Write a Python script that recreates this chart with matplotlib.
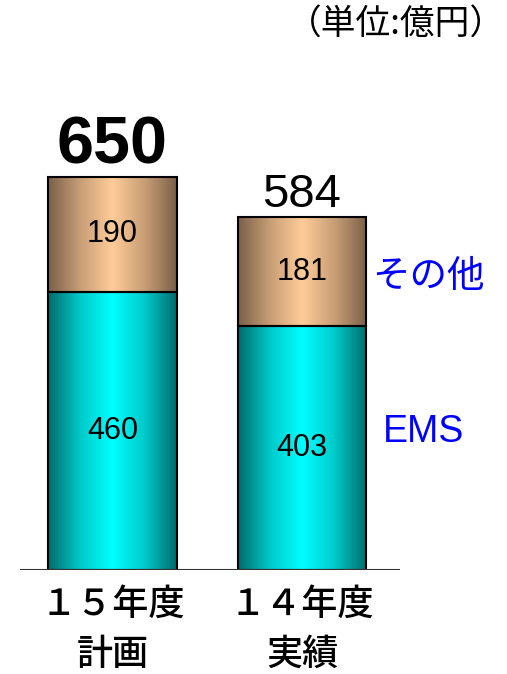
import numpy as np
import matplotlib
matplotlib.use("Agg")
import matplotlib.pyplot as plt
from matplotlib.patches import Rectangle
from matplotlib.colors import LinearSegmentedColormap

plt.rcParams['font.family'] = ['Noto Sans CJK JP', 'DejaVu Sans']

cat_line1 = ["１５年度", "１４年度"]
cat_line2 = ["計画", "実績"]
ems = [460, 403]
other = [190, 181]
totals = [650, 584]
series_names = ["EMS", "その他"]
unit_label = "（単位:億円）"

W, H = 507, 674
fig = plt.figure(figsize=(W / 100, H / 100), dpi=100)
ax = fig.add_axes([20 / W, 104 / H, 380 / W, 570 / H])
ax.axis('off')
ax.axhline(0, color='#333333', lw=1.5, zorder=5)

teal_cmap = LinearSegmentedColormap.from_list('teal', ['#006c6c', '#00caca', '#00ffff', '#00caca', '#006c6c'])
tan_cmap = LinearSegmentedColormap.from_list('tan', ['#7a6049', '#c89e76', '#ffcc99', '#c89e76', '#7a6049'])
grad = np.linspace(0, 1, 256).reshape(1, -1)
width = 0.68

def seg(x, bottom, height, cmap):
    x0, x1 = x - width / 2, x + width / 2
    ax.imshow(grad, cmap=cmap, extent=[x0, x1, bottom, bottom + height],
              aspect='auto', interpolation='bilinear', zorder=2)
    ax.add_patch(Rectangle((x0, bottom), width, height, fill=False,
                           edgecolor='black', lw=1.5, zorder=3))

for i in range(len(ems)):
    seg(i, 0, ems[i], teal_cmap)
    seg(i, ems[i], other[i], tan_cmap)
    ax.text(i, ems[i] / 2, str(ems[i]), ha='center', va='center',
            fontsize=22, family=['Liberation Sans'], zorder=4)
    ax.text(i, ems[i] + other[i] / 2, str(other[i]), ha='center', va='center',
            fontsize=22, family=['Liberation Sans'], zorder=4)

ax.text(0, totals[0] + 23, str(totals[0]), ha='center', va='baseline',
        fontsize=48, fontweight='bold', family=['Liberation Sans'])
ax.text(1, totals[1] + 16, str(totals[1]), ha='center', va='baseline',
        fontsize=34, family=['Liberation Sans'])

ax.set_xlim(-0.488, 1.517)
ax.set_ylim(0, 570 / 0.6046)

for i in range(len(ems)):
    ax.text(i, -58, cat_line1[i], ha='center', va='center', fontsize=26, fontweight='medium')
    ax.text(i, -140, cat_line2[i], ha='center', va='center', fontsize=26, fontweight='medium')

ax.text(1.369, 485, series_names[1], ha='left', va='center',
        fontsize=27, color='#0000ff')
ax.text(1.427, 228, series_names[0], ha='left', va='center',
        fontsize=27, color='#0000ff', family=['Liberation Sans'])

fig.text(505 / W, 1 - 25 / H, unit_label, ha='right', va='center', fontsize=25)

fig.savefig('out.png', dpi=100)
